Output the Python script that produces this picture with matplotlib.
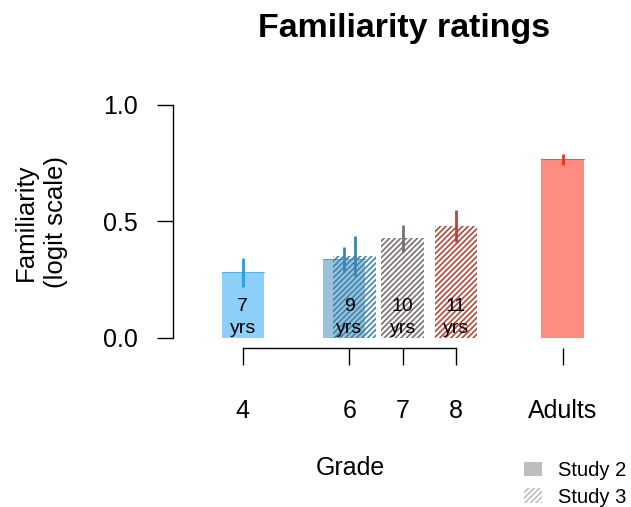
import matplotlib.pyplot as plt
from matplotlib.patches import Patch

plt.rcParams['font.family'] = ['Liberation Sans', 'DejaVu Sans']
plt.rcParams['hatch.linewidth'] = 1.2

# x positions on the grade axis; adults sit two steps past grade 8
tick_pos = [4, 6, 7, 8, 10]
tick_labels = ['4', '6', '7', '8', 'Adults']

# Study 2 (solid bars)
s2_x = [4, 5.9, 10]
s2_mean = [0.283, 0.338, 0.767]
s2_lo = [0.219, 0.285, 0.742]
s2_hi = [0.343, 0.389, 0.790]
s2_fill = ['#8ECFF7', '#9DC2D8', '#FF8C80']
s2_err = ['#1FA0EC', '#3B86B4', '#FF2A1A']

# Study 3 (hatched bars)
s3_x = [6.1, 7, 8]
s3_mean = [0.353, 0.428, 0.481]
s3_lo = [0.266, 0.367, 0.413]
s3_hi = [0.438, 0.487, 0.549]
s3_col = ['#3A86B2', '#7A6F72', '#B5473A']

age_x = [4, 6, 7, 8]
age_labels = ['7', '9', '10', '11']

fig = plt.figure(figsize=(6.31, 5.07), dpi=100)
W, H = 631, 507
ax = fig.add_axes([173 / W, (H - 348) / H, (600 - 173) / W, (348 - 105) / H])
ax.set_xlim(2.69, 10.7)
ax.set_ylim(-0.043, 1.0)

bw = 0.8
ax.bar(s2_x, s2_mean, width=bw, color=s2_fill, linewidth=0, zorder=1)
for x, m, c in zip(s2_x, s2_mean, s2_err):
    ax.plot([x - bw / 2, x + bw / 2], [m, m], color=c, lw=0.8, alpha=0.6, zorder=2)
ax.bar(s3_x, s3_mean, width=bw, facecolor='none', edgecolor=s3_col,
       hatch='//////', linewidth=0, zorder=2)

for x, lo, hi, c in zip(s2_x, s2_lo, s2_hi, s2_err):
    ax.plot([x, x], [lo, hi], color=c, lw=2, solid_capstyle='butt', zorder=3)
for x, lo, hi, c in zip(s3_x, s3_lo, s3_hi, s3_col):
    ax.plot([x, x], [lo, hi], color=c, lw=2, solid_capstyle='butt', zorder=3)

for x, a in zip(age_x, age_labels):
    ax.text(x, 0.135, a, ha='center', va='center', fontsize=14, zorder=4)
    ax.text(x, 0.04, 'yrs', ha='center', va='center', fontsize=14, zorder=4)

for s in ['top', 'right']:
    ax.spines[s].set_visible(False)
ax.spines['left'].set_bounds(0, 1)
ax.spines['bottom'].set_bounds(4, 8)
for s in ['left', 'bottom']:
    ax.spines[s].set_linewidth(1.0)

ax.set_yticks([0, 0.5, 1.0])
ax.set_yticklabels(['0.0', '0.5', '1.0'])
ax.set_xticks(tick_pos)
ax.set_xticklabels(tick_labels)
ax.tick_params(axis='y', length=11.5, width=1.0, pad=14, labelsize=18)
ax.tick_params(axis='x', length=12, width=1.0, pad=25, labelsize=18)

fig.text(404 / W, 1 - 29 / H, 'Familiarity ratings', ha='center', va='center',
         fontsize=24.5, fontweight='bold')
fig.text(41 / W, 1 - 222 / H, 'Familiarity\n(logit scale)', rotation=90,
         ha='center', va='center', fontsize=18.5, linespacing=1.3)
fig.text(350 / W, 1 - 468 / H, 'Grade', ha='center', va='center', fontsize=18)

handles = [Patch(facecolor='#BEBEBE', edgecolor='none'),
           Patch(facecolor='none', edgecolor='#BEBEBE', hatch='//////', linewidth=0)]
fig.legend(handles, ['Study 2', 'Study 3'], loc='center left',
           bbox_to_anchor=(520 / W, 1 - 484 / H), frameon=False, fontsize=14.5,
           handlelength=0.9, handleheight=0.7, handletextpad=0.8, labelspacing=0.35,
           borderaxespad=0, borderpad=0.2)

fig.savefig('out.png', dpi=100)
